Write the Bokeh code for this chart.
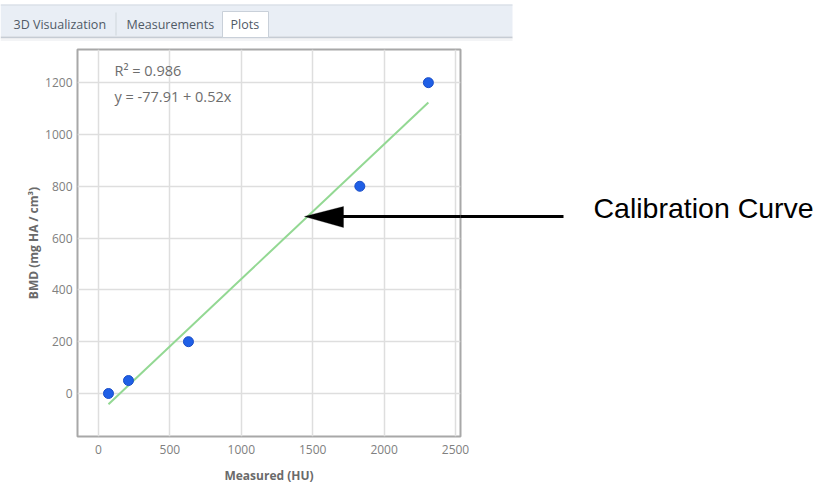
from bokeh.plotting import figure
from bokeh.layouts import column, row
from bokeh.models import (Range1d, Label, Arrow, PolyAnnotation,
                          FixedTicker, ColumnDataSource)
from bokeh.embed import file_html
from bokeh.resources import INLINE

# ---- data ----
measured = [70, 210, 630, 1830, 2310]
bmd = [0, 50, 200, 800, 1200]
intercept = -77.91
slope = 0.52
r2 = 0.986
x_ticks = [0, 500, 1000, 1500, 2000, 2500]
y_ticks = [0, 200, 400, 600, 800, 1000, 1200]
tabs = ["3D Visualization", "Measurements", "Plots"]
tab_text_x = [13, 126, 230]

# ---- layout (page px) ----
TOTAL_W = 816
TAB_H = 41
FRAME_R = 460
CHART_PAD_R = 14
BODY_H = 452
FL, FT, FB = 77, 49, 436  # frame left / top / bottom on page


def sx(px):
    return px - FL


def sy(py):
    return FB - py


def blank(width, height, x0, x1, y0, y1):
    f = figure(width=width, height=height, output_backend="svg",
               toolbar_location=None, x_range=Range1d(x0, x1),
               y_range=Range1d(y1, y0), min_border=0,
               x_axis_location=None, y_axis_location=None)
    f.grid.visible = False
    f.outline_line_color = None
    f.background_fill_alpha = 0
    f.border_fill_alpha = 0
    return f


# ---- tab bar ----
tb = blank(TOTAL_W, TAB_H, 0, TOTAL_W, 0, TAB_H)
tb.quad(left=0, right=512, top=4, bottom=36, fill_color="#e9eef5", line_color=None)
tb.quad(left=0, right=512, top=4, bottom=5, fill_color="#d4dae2", line_color=None)
tb.quad(left=0, right=512, top=36, bottom=38, fill_color="#c6ccd4", line_color=None)
tb.quad(left=0, right=512, top=38, bottom=41, fill_color="#f3f4f6", line_color=None)
tb.quad(left=222, right=268, top=11, bottom=37, fill_color="white",
        line_color="#c9d0d9", line_width=1)
tb.quad(left=115, right=116, top=12, bottom=35, fill_color="#cfd5dc", line_color=None)
for t, xpos in zip(tabs, tab_text_x):
    tb.add_layout(Label(x=xpos, y=24, text=t, text_font="Open Sans",
                        text_font_size="12.5px", text_color="#505a66",
                        text_baseline="middle"))

# ---- chart ----
p = figure(width=FRAME_R + CHART_PAD_R, height=BODY_H, output_backend="svg",
           toolbar_location=None,
           x_range=Range1d(-147, 2535), y_range=Range1d(-166, 1328),
           min_border_left=FL, min_border_right=CHART_PAD_R,
           min_border_top=FT - TAB_H, min_border_bottom=TAB_H + BODY_H - FB)
p.background_fill_color = "white"
p.border_fill_color = "white"
p.outline_line_color = "#a8a8a8"
p.outline_line_width = 2

for ax in (p.xaxis, p.yaxis):
    ax.axis_line_color = None
    ax.major_tick_line_color = None
    ax.minor_tick_line_color = None
    ax.major_tick_out = 0
    ax.major_tick_in = 0
    ax.minor_tick_out = 0
    ax.minor_tick_in = 0
    ax.major_label_text_font = "Open Sans"
    ax.major_label_text_font_size = "12px"
    ax.major_label_text_color = "#808080"
    ax.axis_label_text_font = "Open Sans"
    ax.axis_label_text_font_size = "12px"
    ax.axis_label_text_font_style = "bold"
    ax.axis_label_text_color = "#6a6a6a"

p.xaxis.major_label_standoff = 8
p.yaxis.major_label_standoff = 5
p.xaxis.ticker = FixedTicker(ticks=x_ticks)
p.yaxis.ticker = FixedTicker(ticks=y_ticks)
p.xaxis.axis_label = "Measured (HU)"
p.yaxis.axis_label = "BMD (mg HA / cm³)"
p.xaxis.axis_label_standoff = 10
p.yaxis.axis_label_standoff = 0

p.grid.grid_line_color = "#dedede"
p.grid.grid_line_width = 1.5

# fitted calibration line
fx = [min(measured), max(measured)]
fy = [intercept + slope * v for v in fx]
p.line(fx, fy, line_color="#93d893", line_width=2)

src = ColumnDataSource(dict(x=measured, y=bmd))
p.scatter("x", "y", source=src, size=10, fill_color="#1f5fe6",
          line_color="#1a4ec8", line_width=1)

txt_col = "#6d6d6d"
p.add_layout(Label(x=sx(114), y=sy(70), x_units="screen", y_units="screen",
                   text=f"R² = {r2}", text_font="Open Sans",
                   text_font_size="14.5px", text_color=txt_col,
                   text_baseline="middle"))
p.add_layout(Label(x=sx(114), y=sy(96), x_units="screen", y_units="screen",
                   text=f"y = {intercept} + {slope}x", text_font="Open Sans",
                   text_font_size="14.5px", text_color=txt_col,
                   text_baseline="middle"))

# callout arrow (part inside the chart frame)
p.add_layout(Arrow(end=None, x_start=sx(480), y_start=sy(216), x_end=sx(340),
                   y_end=sy(216), start_units="screen", end_units="screen",
                   line_color="black", line_width=3))
p.add_layout(PolyAnnotation(xs=[sx(304), sx(343), sx(343)],
                            ys=[sy(216), sy(206), sy(227)],
                            xs_units="screen", ys_units="screen",
                            fill_color="black", fill_alpha=1, line_color="black"))

# ---- right side: rest of arrow + caption ----
# (Bokeh aligns the frames of plots in a row, so this frame spans FT..FB)
rt = blank(TOTAL_W - FRAME_R, BODY_H, FRAME_R, TOTAL_W, FT, FB)
rt.margin = (0, 0, 0, -CHART_PAD_R)
rt.segment(x0=FRAME_R - 1, y0=216, x1=563, y1=216, line_color="black", line_width=3)
rt.add_layout(Label(x=593, y=207, text="Calibration Curve",
                    text_font="Liberation Sans", text_font_size="28.5px",
                    text_color="black", text_baseline="middle"))

layout = column(tb, row(p, rt, spacing=0), spacing=0)
open("out.html", "w").write(file_html(layout, INLINE))
